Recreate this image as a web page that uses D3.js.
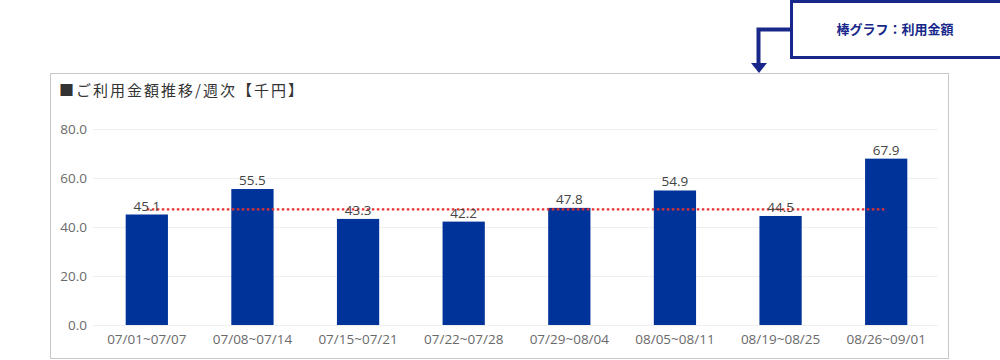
<!DOCTYPE html>
<html><head><meta charset="utf-8">
<script src="https://cdn.jsdelivr.net/npm/d3@7"></script>
<style>
html,body{margin:0;padding:0;background:#fff;}
svg{display:block;font-family:"Segoe UI","Noto Sans CJK JP","Open Sans",sans-serif;}
</style></head>
<body>
<svg id="c" width="1000" height="360"></svg>
<script>
const categories = ["07/01~07/07","07/08~07/14","07/15~07/21","07/22~07/28","07/29~08/04","08/05~08/11","08/19~08/25","08/26~09/01"];
const values = [45.1, 55.5, 43.3, 42.2, 47.8, 54.9, 44.5, 67.9];
const averageValue = [47.2];
const yTicks = [0, 20, 40, 60, 80];
const titleText = "■ご利用金額推移/週次【千円】";
const calloutText = "棒グラフ：利用金額";

const svg = d3.select("#c");
const navy = "#17288a";

// outer frame
svg.append("rect").attr("x",50.5).attr("y",73.5).attr("width",898).attr("height",285)
  .attr("fill","none").attr("stroke","#c8c8c8").attr("stroke-width",1);

// title
svg.append("text").attr("x",59).attr("y",96).attr("font-size",15).attr("fill","#333")
  .attr("letter-spacing","2px").attr("font-family","'Noto Sans CJK JP',sans-serif").text(titleText);

const x = d3.scaleBand().domain(categories).range([94,939]).paddingInner(0.6).paddingOuter(0.3);
const y = d3.scaleLinear().domain([0,80]).range([325,129]);

// gridlines
svg.append("g").selectAll("line").data(yTicks).join("line")
  .attr("x1",93).attr("x2",938).attr("y1",d=>y(d)+0.5).attr("y2",d=>y(d)+0.5)
  .attr("stroke","#efefef").attr("stroke-width",1);

// y axis
const yAxis = d3.axisLeft(y).tickValues(yTicks).tickFormat(d3.format(".1f")).tickSize(0).tickPadding(6);
const gy = svg.append("g").attr("transform","translate(93,0)").call(yAxis);
gy.select(".domain").remove();
gy.selectAll("text").attr("font-size",13.5).attr("fill","#6a6a6a").attr("font-family","'Open Sans','Noto Sans',sans-serif");

// x axis
const xAxis = d3.axisBottom(x).tickSize(0).tickPadding(9);
const gx = svg.append("g").attr("transform","translate(0,325)").call(xAxis);
gx.select(".domain").remove();
gx.selectAll("text").attr("font-size",13.5).attr("fill","#6a6a6a").attr("font-family","'Open Sans','Noto Sans',sans-serif");

// bars
svg.append("g").selectAll("rect").data(values).join("rect")
  .attr("x",(d,i)=>x(categories[i])).attr("width",x.bandwidth())
  .attr("y",d=>y(d)).attr("height",d=>y(0)-y(d)).attr("fill","#003399");

// average line
const first = x(categories[0]) + x.bandwidth()/2;
const last = x(categories[categories.length-1]) + x.bandwidth()/2;
svg.append("line").attr("x1",first).attr("x2",last)
  .attr("y1",y(averageValue[0])).attr("y2",y(averageValue[0]))
  .attr("stroke","#e8312f").attr("stroke-width",2.2).attr("stroke-dasharray","2.5,2.5");

// value labels
svg.append("g").selectAll("text").data(values).join("text")
  .attr("x",(d,i)=>x(categories[i])+x.bandwidth()/2).attr("y",d=>y(d)-4)
  .attr("text-anchor","middle").attr("font-size",13.5).attr("fill","#444")
  .attr("font-family","'Open Sans','Noto Sans',sans-serif")
  .text(d=>d.toFixed(1));

// callout
svg.append("rect").attr("x",791.5).attr("y",1.5).attr("width",210).attr("height",56)
  .attr("fill","#fff").attr("stroke",navy).attr("stroke-width",3);
svg.append("text").attr("x",895).attr("y",34).attr("text-anchor","middle")
  .attr("font-size",13).attr("font-weight","bold").attr("fill",navy)
  .attr("font-family","'Noto Sans CJK JP',sans-serif").text(calloutText);
svg.append("path").attr("d","M790,29.5 H758.5 V63").attr("fill","none").attr("stroke",navy).attr("stroke-width",4);
svg.append("path").attr("d","M751,63 L767,63 L759,73 Z").attr("fill",navy);
</script>
</body></html>
